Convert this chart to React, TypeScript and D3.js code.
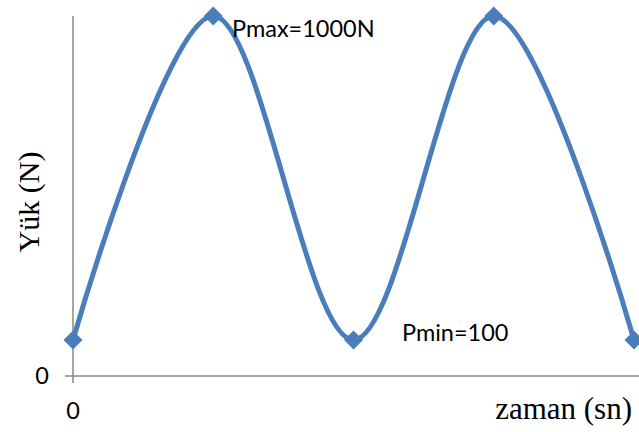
import React from "react";
import * as d3 from "d3";

const times = [0, 1, 2, 3, 4];
const loads = [100, 1000, 100, 1000, 100];
const xTicks = [0];
const yTicks = [0];
const annotations = [
  { label: "Pmax=1000N", t: 1, v: 1000 },
  { label: "Pmin=100", t: 2, v: 100 },
];

export default function App() {
  const W = 639, H = 432;
  const x = d3.scaleLinear().domain([0, 4]).range([73, 634]);
  const y = d3.scaleLinear().domain([0, 1000]).range([376, 16]);
  const pts = times.map((t, i) => [x(t), y(loads[i])] as [number, number]);
  const line = d3.line().curve(d3.curveCardinal.tension(0))(pts) || "";
  const sans = "Lato, 'Open Sans', sans-serif";
  const serif = "'Liberation Serif', 'DejaVu Serif', serif";
  return (
    <svg width={W} height={H} style={{ position: "absolute", left: 0, top: 0 }}>
      <rect width={W} height={H} fill="#fff" />
      <line x1={x(0)} x2={x(0)} y1={16} y2={383} stroke="#888" strokeWidth={1.5} />
      <line x1={65} x2={639} y1={y(0)} y2={y(0)} stroke="#888" strokeWidth={1.5} />
      {yTicks.map((v) => (
        <text key={"y" + v} x={49} y={y(v)} dy="0.35em" textAnchor="end" fontFamily={sans} fontSize={23.5}>{v}</text>
      ))}
      {xTicks.map((v) => (
        <text key={"x" + v} x={x(v)} y={411} dy="0.35em" textAnchor="middle" fontFamily={sans} fontSize={23.5}>{v}</text>
      ))}
      <path d={line} fill="none" stroke="#4a7ebb" strokeWidth={5} />
      {pts.map(([px, py], i) => (
        <path key={i} d={`M${px},${py - 9.5}L${px + 9.5},${py}L${px},${py + 9.5}L${px - 9.5},${py}Z`} fill="#4a7ebb" />
      ))}
      <text x={232} y={37} fontFamily={sans} fontSize={23.5}>{annotations[0].label}</text>
      <text x={402} y={341} fontFamily={sans} fontSize={23.5}>{annotations[1].label}</text>
      <text x={632} y={419} textAnchor="end" fontFamily={serif} fontSize={31}>zaman (sn)</text>
      <text transform={`translate(39,202) rotate(-90)`} textAnchor="middle" fontFamily={serif} fontSize={30}>Yük (N)</text>
    </svg>
  );
}
